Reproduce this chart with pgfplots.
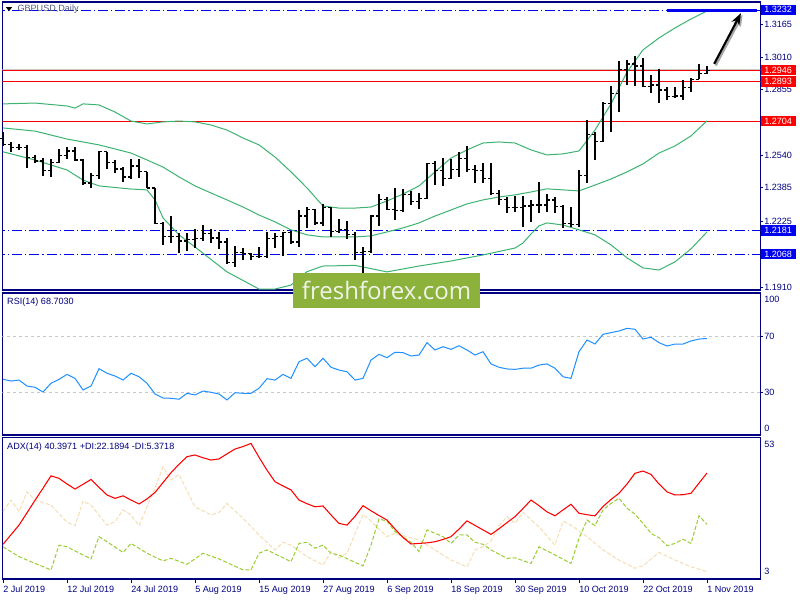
\documentclass[border=0pt]{standalone}
\usepackage{pgfplots}
\pgfplotsset{compat=1.18}
\usepackage{pgfplotstable}
\usepackage{fontspec}
\setmainfont{Liberation Sans}
\newfontfamily\wmfont{Open Sans}
\usetikzlibrary{arrows.meta}

\definecolor{mtnavy}{RGB}{0,0,128}
\definecolor{bbgreen}{RGB}{60,179,113}
\definecolor{rsiblue}{RGB}{30,144,255}
\definecolor{pdigreen}{RGB}{154,205,50}
\definecolor{mdiwheat}{RGB}{245,222,179}
\definecolor{wmgreen}{RGB}{140,178,60}
\definecolor{lvlblue}{RGB}{0,0,240}
\definecolor{lvlred}{RGB}{255,0,0}
\definecolor{lvlgray}{RGB}{200,200,200}

\newcommand\mtf{\fontsize{6.8pt}{8pt}\selectfont}

\pgfdeclareplotmark{otick}{\pgfpathmoveto{\pgfqpoint{-2.4pt}{0pt}}\pgfpathlineto{\pgfqpoint{0pt}{0pt}}\pgfusepathqstroke}
\pgfdeclareplotmark{ctick}{\pgfpathmoveto{\pgfqpoint{0pt}{0pt}}\pgfpathlineto{\pgfqpoint{2.4pt}{0pt}}\pgfusepathqstroke}
\pgfdeclareplotmark{nomark}{}

\pgfplotstableread{
i O H L C
0 1.2620 1.2653 1.2585 1.2593
1 1.2593 1.2604 1.2555 1.2576
2 1.2576 1.2594 1.2566 1.2578
3 1.2578 1.2591 1.2478 1.2528
4 1.2528 1.2542 1.2502 1.2513
5 1.2513 1.2529 1.2442 1.2466
6 1.2466 1.2522 1.2438 1.2504
7 1.2504 1.2570 1.2502 1.2538
8 1.2538 1.2579 1.2522 1.2561
9 1.2561 1.2582 1.2513 1.2518
10 1.2518 1.2522 1.2399 1.2408
11 1.2408 1.2457 1.2383 1.2442
12 1.2442 1.2561 1.2426 1.2557
13 1.2557 1.2558 1.2474 1.2504
14 1.2504 1.2518 1.2457 1.2475
15 1.2475 1.2483 1.2414 1.2437
16 1.2437 1.2522 1.2426 1.2489
17 1.2489 1.2522 1.2431 1.2461
18 1.2461 1.2462 1.2383 1.2384
19 1.2384 1.2386 1.2210 1.2214
20 1.2214 1.2223 1.2112 1.2152
21 1.2152 1.2250 1.2120 1.2152
22 1.2152 1.2168 1.2075 1.2131
23 1.2131 1.2168 1.2083 1.2136
24 1.2136 1.2187 1.2099 1.2144
25 1.2144 1.2206 1.2131 1.2168
26 1.2168 1.2187 1.2120 1.2145
27 1.2145 1.2173 1.2091 1.2126
28 1.2126 1.2144 1.2021 1.2026
29 1.2026 1.2107 1.2008 1.2074
30 1.2074 1.2096 1.2040 1.2069
31 1.2069 1.2075 1.2040 1.2055
32 1.2055 1.2104 1.2048 1.2055
33 1.2055 1.2176 1.2050 1.2144
34 1.2144 1.2168 1.2099 1.2152
35 1.2152 1.2176 1.2059 1.2173
36 1.2173 1.2179 1.2117 1.2126
37 1.2126 1.2279 1.2104 1.2250
38 1.2250 1.2292 1.2192 1.2283
39 1.2283 1.2286 1.2208 1.2217
40 1.2217 1.2308 1.2203 1.2289
41 1.2289 1.2292 1.2149 1.2176
42 1.2176 1.2235 1.2168 1.2184
43 1.2184 1.2228 1.2139 1.2160
44 1.2160 1.2176 1.2040 1.2074
45 1.2074 1.2104 1.1977 1.2080
46 1.2080 1.2255 1.2075 1.2250
47 1.2250 1.2356 1.2203 1.2330
48 1.2330 1.2343 1.2279 1.2282
49 1.2282 1.2383 1.2231 1.2276
50 1.2276 1.2378 1.2270 1.2351
51 1.2351 1.2371 1.2303 1.2319
52 1.2319 1.2362 1.2283 1.2335
53 1.2335 1.2505 1.2330 1.2502
54 1.2502 1.2515 1.2399 1.2466
55 1.2466 1.2526 1.2394 1.2431
56 1.2431 1.2522 1.2428 1.2474
57 1.2474 1.2558 1.2435 1.2526
58 1.2526 1.2585 1.2462 1.2474
59 1.2474 1.2494 1.2410 1.2467
60 1.2467 1.2502 1.2410 1.2431
61 1.2431 1.2505 1.2351 1.2356
62 1.2356 1.2375 1.2303 1.2330
63 1.2330 1.2340 1.2266 1.2292
64 1.2292 1.2346 1.2271 1.2292
65 1.2292 1.2346 1.2199 1.2298
66 1.2298 1.2327 1.2223 1.2303
67 1.2303 1.2414 1.2263 1.2303
68 1.2303 1.2356 1.2271 1.2327
69 1.2327 1.2343 1.2263 1.2295
70 1.2295 1.2303 1.2192 1.2216
71 1.2216 1.2295 1.2199 1.2208
72 1.2208 1.2470 1.2199 1.2442
73 1.2442 1.2709 1.2407 1.2641
74 1.2641 1.2653 1.2518 1.2605
75 1.2605 1.2797 1.2605 1.2789
76 1.2789 1.2871 1.2653 1.2836
77 1.2836 1.2993 1.2749 1.2951
78 1.2951 1.2996 1.2877 1.2977
79 1.2977 1.3015 1.2871 1.2967
80 1.2967 1.3004 1.2868 1.2871
81 1.2871 1.2924 1.2836 1.2876
82 1.2876 1.2951 1.2789 1.2852
83 1.2852 1.2868 1.2805 1.2821
84 1.2821 1.2868 1.2813 1.2824
85 1.2824 1.2900 1.2805 1.2866
86 1.2866 1.2908 1.2845 1.2904
87 1.2904 1.2977 1.2904 1.2933
88 1.2933 1.2967 1.2929 1.2946
}\ohlc

\pgfplotstableread{
i v
0 1.2786
4 1.2790
8 1.2776
9 1.2766
10 1.2786
12 1.2781
14 1.2747
16 1.2704
18 1.2690
20 1.2700
22 1.2704
24 1.2700
26 1.2685
28 1.2661
30 1.2623
32 1.2590
34 1.2532
36 1.2461
38 1.2384
40 1.2298
42 1.2288
44 1.2288
46 1.2293
48 1.2322
50 1.2355
52 1.2394
54 1.2461
56 1.2527
58 1.2566
60 1.2599
62 1.2604
64 1.2599
66 1.2566
68 1.2542
70 1.2547
72 1.2561
74 1.2661
76 1.2786
78 1.2938
80 1.3044
82 1.3101
84 1.3149
86 1.3192
88 1.3230
}\bbup

\pgfplotstableread{
i v
0 1.2671
4 1.2656
8 1.2618
12 1.2590
16 1.2551
18 1.2518
20 1.2484
22 1.2437
24 1.2394
26 1.2360
28 1.2327
30 1.2293
32 1.2255
34 1.2222
36 1.2184
38 1.2160
40 1.2150
44 1.2150
46 1.2155
48 1.2174
50 1.2193
52 1.2217
54 1.2250
56 1.2279
58 1.2308
60 1.2327
62 1.2341
64 1.2351
66 1.2365
68 1.2380
70 1.2375
72 1.2370
74 1.2398
76 1.2427
78 1.2461
80 1.2499
82 1.2551
84 1.2585
86 1.2633
88 1.2705
}\bbmid

\pgfplotstableread{
i v
0 1.2557
4 1.2518
8 1.2470
10 1.2422
12 1.2394
16 1.2379
18 1.2375
19 1.2327
20 1.2241
22 1.2160
24 1.2102
28 1.1983
32 1.1901
34 1.1901
36 1.1920
38 1.1984
40 1.2011
44 1.2014
48 1.1983
52 1.2011
56 1.2035
60 1.2064
64 1.2097
65 1.2121
66 1.2164
67 1.2203
68 1.2217
70 1.2207
72 1.2184
74 1.2160
76 1.2112
78 1.2050
80 1.2002
82 1.1992
84 1.2031
86 1.2093
88 1.2174
}\bblow

\pgfplotstableread{
i v
0 39.4
1 38.1
2 38.8
3 34.5
4 33.6
5 30.2
6 36.5
7 39.3
8 42.9
9 40.0
10 31.7
11 34.5
12 47.0
13 43.7
14 41.7
15 38.8
16 43.7
17 41.2
18 36.5
19 28.8
20 25.9
21 25.7
22 25.0
23 29.3
24 28.1
25 30.9
26 30.0
27 28.8
28 24.5
29 29.7
30 29.3
31 29.3
32 32.9
33 39.8
34 38.8
35 42.9
36 40.0
37 52.0
38 54.5
39 48.4
40 54.5
41 48.0
42 46.0
43 44.8
44 38.8
45 40.0
46 53.2
47 57.3
48 54.9
49 58.8
50 58.5
51 56.1
52 56.8
53 65.7
54 60.4
55 62.8
56 60.9
57 63.5
58 60.4
59 56.8
60 59.2
61 50.4
62 48.0
63 46.8
64 46.5
65 47.3
66 47.3
67 49.6
68 50.4
69 47.3
70 41.2
71 40.0
72 59.2
73 67.6
74 64.7
75 71.7
76 72.9
77 74.1
78 76.0
79 75.3
80 68.3
81 69.6
82 65.7
83 63.3
84 64.7
85 64.7
86 66.9
87 68.3
88 68.703
}\rsi

\pgfplotstableread{
i v
0 15.1
1 18.5
2 21.9
3 26.3
4 30.7
5 35.0
6 39.4
7 38.5
8 36.5
9 34.7
10 36.4
11 38.1
12 35.3
13 32.6
14 31.4
15 32.3
16 30.8
17 29.4
18 31.2
19 33.5
20 37.0
21 40.5
22 43.5
23 46.2
24 46.8
25 45.8
26 45.0
27 45.4
28 47.2
29 48.9
30 49.8
31 50.9
32 46.0
33 41.4
34 37.3
35 35.8
36 34.4
37 30.8
38 29.5
39 28.4
40 28.7
41 25.5
42 22.5
43 21.9
44 25.0
45 28.8
46 27.0
47 25.3
48 23.7
49 20.5
50 17.5
51 15.2
52 15.4
53 15.6
54 16.0
55 16.8
56 17.8
57 20.5
58 23.4
59 21.8
60 20.2
61 18.6
62 20.6
63 22.8
64 24.9
65 27.8
66 30.8
67 28.8
68 26.6
69 25.2
70 27.3
71 29.3
72 26.1
73 25.6
74 25.2
75 28.5
76 31.0
77 33.2
78 36.5
79 40.3
80 41.1
81 39.9
82 36.5
83 33.7
84 32.6
85 32.7
86 33.2
87 36.8
88 40.3971
}\adx

\pgfplotstableread{
i v
0 14.2
2 10.7
4 8.3
6 6.0
7 14.8
8 14.2
11 9.9
12 17.8
13 16.0
15 12.2
16 15.4
18 11.9
20 9.2
21 10.1
23 8.0
25 11.9
27 9.9
30 6.0
31 6.0
32 11.9
33 13.1
36 8.9
37 15.4
38 15.8
39 13.7
40 14.8
41 11.9
42 11.3
45 7.4
46 14.8
47 24.1
48 23.3
49 19.6
51 15.8
52 12.5
53 20.2
54 19.0
55 17.8
56 15.4
57 18.4
58 18.4
59 15.8
60 15.1
61 13.1
63 10.1
64 10.3
66 8.3
67 14.2
69 11.3
71 8.3
72 17.2
73 23.7
74 21.7
75 27.3
76 29.6
77 31.4
78 27.9
79 25.8
80 22.5
81 19.0
82 17.4
83 14.6
84 15.4
85 16.9
86 15.4
87 25.2
88 22.1894
}\pdi

\pgfplotstableread{
i v
0 26.7
1 30.8
2 26.7
3 33.7
4 30.8
6 29.0
8 22.9
9 21.7
10 30.4
11 29.0
13 21.9
14 23.1
15 27.3
16 25.5
17 21.7
19 35.0
20 42.6
21 37.9
22 39.9
24 28.4
26 25.5
27 26.4
28 29.6
30 24.3
32 18.4
34 13.1
35 15.8
36 14.8
38 10.7
40 7.7
41 12.5
42 10.3
43 11.9
45 25.7
46 23.3
47 20.5
48 17.8
49 19.0
52 16.6
54 13.1
56 9.5
58 7.1
59 13.1
60 14.2
61 16.3
62 21.7
63 24.9
64 22.5
65 26.4
67 21.3
69 14.8
70 23.3
71 21.9
73 17.8
75 13.1
77 9.5
79 6.6
80 7.5
82 12.2
84 9.5
86 7.1
88 5.3718
}\mdi

\pgfplotsset{
  mtpanel/.style={
    scale only axis, width=568.3pt, anchor=north west,
    xmin=-0.09, xmax=94.63,
    axis line style={mtnavy, line width=0.8pt},
    tick style={mtnavy, line width=0.6pt},
    tick align=outside, major tick length=2.4pt,
    ticklabel style={font=\mtf, text=mtnavy},
    yticklabel style={anchor=west, inner xsep=0.6pt},
    xtick=\empty,
    ytick pos=right, yticklabel pos=right,
    clip mode=individual,
  },
}

\begin{document}
\begin{tikzpicture}
\path[use as bounding box] (0,0) rectangle (600pt,-450pt);
\fill[white] (0,0) rectangle (600pt,-450pt);

% ---------- price panel ----------
\begin{axis}[mtpanel, at={(1.725pt,-1.5pt)}, height=216pt,
  ymin=1.18964, ymax=1.32730,
  ytick={1.1910,1.2070,1.2225,1.2385,1.2540,1.2700,1.2855,1.3010,1.3165},
  yticklabels={1.1910,1.2070,1.2225,1.2385,1.2540,1.2700,1.2855,1.3010,1.3165},
]
\addplot[lvlgray, line width=0.75pt] coordinates {(-1,1.2951) (96,1.2951)};
\addplot[lvlred, line width=0.8pt] coordinates {(-1,1.2946) (96,1.2946)};
\addplot[lvlred, line width=0.8pt] coordinates {(-1,1.2893) (96,1.2893)};
\addplot[lvlred, line width=0.8pt] coordinates {(-1,1.2704) (96,1.2704)};
\addplot[lvlblue, line width=0.8pt, dash pattern=on 7.5pt off 2.25pt on 0.9pt off 2.25pt] coordinates {(-1,1.3232) (96,1.3232)};
\addplot[lvlblue, line width=0.8pt, dash pattern=on 7.5pt off 2.25pt on 0.9pt off 2.25pt] coordinates {(-1,1.2181) (96,1.2181)};
\addplot[lvlblue, line width=0.8pt, dash pattern=on 7.5pt off 2.25pt on 0.9pt off 2.25pt] coordinates {(-1,1.2068) (96,1.2068)};

\addplot[bbgreen, line width=0.75pt] table[x=i,y=v] {\bbup};
\addplot[bbgreen, line width=0.75pt] table[x=i,y=v] {\bbmid};
\addplot[bbgreen, line width=0.75pt] table[x=i,y=v] {\bblow};

\addplot[black, only marks, mark=nomark,
  error bars/.cd, y dir=both, y explicit, error mark=none,
  error bar style={black, line width=0.9pt}]
  table[x=i, y expr={(\thisrow{H}+\thisrow{L})/2}, y error expr={(\thisrow{H}-\thisrow{L})/2}] {\ohlc};
\addplot[black, only marks, mark=otick, mark options={line width=0.9pt}] table[x=i,y=O] {\ohlc};
\addplot[black, only marks, mark=ctick, mark options={line width=0.9pt}] table[x=i,y=C] {\ohlc};

\draw[lvlblue, line width=2.2pt] (axis cs:83,1.3232) -- (axis cs:94.3,1.3232);
\draw[black!35, line width=1.6pt, -{Stealth[length=9pt,width=6.5pt]}] ([xshift=1.2pt,yshift=-1.2pt]axis cs:88.9,1.2977) -- ([xshift=1.2pt,yshift=-1.2pt]axis cs:92.25,1.3220);
\draw[black, line width=1.6pt, -{Stealth[length=9pt,width=6.5pt]}] (axis cs:88.9,1.2977) -- (axis cs:92.25,1.3220);

\tikzset{lbl/.style={anchor=west, text=white, font=\mtf, inner xsep=2.6pt, inner ysep=0pt, minimum height=7.6pt, xshift=0.4pt}}
\node[lbl, fill=lvlblue] at ({rel axis cs:1,0}|-{axis cs:0,1.3236}) {1.3232};
\node[lbl, fill=lvlred] at ({rel axis cs:1,0}|-{axis cs:0,1.2946}) {1.2946};
\node[lbl, fill=lvlred] at ({rel axis cs:1,0}|-{axis cs:0,1.2893}) {1.2893};
\node[lbl, fill=lvlred] at ({rel axis cs:1,0}|-{axis cs:0,1.2704}) {1.2704};
\node[lbl, fill=lvlblue] at ({rel axis cs:1,0}|-{axis cs:0,1.2181}) {1.2181};
\node[lbl, fill=lvlblue] at ({rel axis cs:1,0}|-{axis cs:0,1.2068}) {1.2068};
\end{axis}

% ---------- RSI panel ----------
\begin{axis}[mtpanel, at={(1.725pt,-219.75pt)}, height=106.5pt,
  ymin=-0.7, ymax=101.4,
  ytick={30,70}, yticklabels={30,70},
]
\addplot[lvlgray, line width=0.6pt, dash pattern=on 2.25pt off 2.25pt] coordinates {(-1,70) (96,70)};
\addplot[lvlgray, line width=0.6pt, dash pattern=on 2.25pt off 2.25pt] coordinates {(-1,30) (96,30)};
\addplot[rsiblue, line width=0.75pt] table[x=i,y=v] {\rsi};
\node[anchor=west, inner sep=0pt, font=\mtf, text=mtnavy, xshift=3.5pt, yshift=-6.75pt] at (rel axis cs:0,1) {RSI(14) 68.7030};
\node[anchor=west, inner sep=0pt, font=\mtf, text=mtnavy, xshift=3pt, yshift=-4.7pt] at (rel axis cs:1,1) {100};
\node[anchor=west, inner sep=0pt, font=\mtf, text=mtnavy, xshift=3pt, yshift=5.2pt] at (rel axis cs:1,0) {0};
\end{axis}

% ---------- ADX panel ----------
\begin{axis}[mtpanel, at={(1.725pt,-328.125pt)}, height=106.125pt,
  ymin=2.77, ymax=53.0, ytick=\empty,
  xtick={0,8,16,24,32,40,48,56,64,72,80,88},
  xticklabels={2 Jul 2019,12 Jul 2019,24 Jul 2019,5 Aug 2019,15 Aug 2019,27 Aug 2019,6 Sep 2019,18 Sep 2019,30 Sep 2019,10 Oct 2019,22 Oct 2019,1 Nov 2019},
  xtick pos=bottom, major tick length=3pt,
  xticklabel style={anchor=north west, inner xsep=0pt, inner ysep=0pt, yshift=-2.2pt},
]
\addplot[mdiwheat, line width=0.75pt, dash pattern=on 3pt off 1.5pt] table[x=i,y=v] {\mdi};
\addplot[pdigreen, line width=0.75pt, dash pattern=on 3pt off 1.5pt] table[x=i,y=v] {\pdi};
\addplot[red, line width=0.8pt] table[x=i,y=v] {\adx};
\node[anchor=west, inner sep=0pt, font=\mtf, text=mtnavy, xshift=3.5pt, yshift=-7.1pt] at (rel axis cs:0,1) {ADX(14) 40.3971 +DI:22.1894 -DI:5.3718};
\node[anchor=west, inner sep=0pt, font=\mtf, text=mtnavy, xshift=3pt, yshift=-4.9pt] at (rel axis cs:1,1) {53};
\node[anchor=west, inner sep=0pt, font=\mtf, text=mtnavy, xshift=3pt, yshift=5.5pt] at (rel axis cs:1,0) {3};
\end{axis}

% ---------- header and watermark ----------
\fill[black] (4.5pt,-5.4pt) -- (9pt,-5.4pt) -- (6.75pt,-8.4pt) -- cycle;
\node[anchor=west, inner sep=0pt, font=\mtf, text={rgb,255:red,85;green,90;blue,130}] at (13pt,-7pt) {GBPUSD,Daily};

\fill[wmgreen] (219.75pt,-204.75pt) rectangle (360pt,-231pt);
\node[text={rgb,255:red,240;green,244;blue,232}, font=\wmfont\fontsize{18pt}{20pt}\selectfont, inner sep=0pt] at (289.9pt,-217.9pt) {freshforex.com};
\end{tikzpicture}
\end{document}
